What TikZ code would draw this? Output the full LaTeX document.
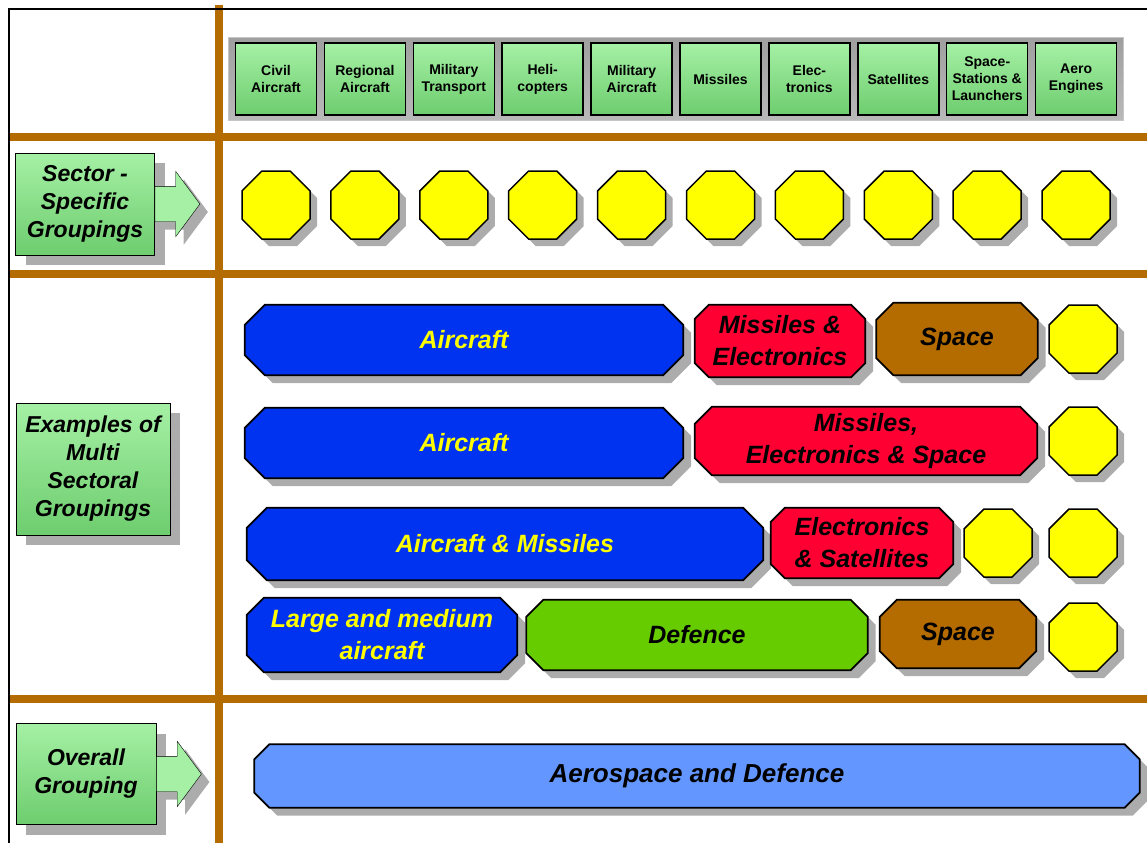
\documentclass[tikz,border=0pt]{standalone}
\usepackage{fontspec}
\setmainfont{Liberation Sans}
\usetikzlibrary{positioning}
\usetikzlibrary{shapes.geometric}
\usetikzlibrary{shapes.arrows}
\usetikzlibrary{shadows}
\usetikzlibrary{backgrounds}
\definecolor{framebrown}{RGB}{180,108,0}
\definecolor{barblue}{RGB}{0,51,240}
\definecolor{barred}{RGB}{255,0,51}
\definecolor{barbrown}{RGB}{180,108,0}
\definecolor{bargreen}{RGB}{102,204,0}
\definecolor{barsky}{RGB}{100,150,255}
\definecolor{octyellow}{RGB}{255,255,0}
\definecolor{boxgreen}{RGB}{165,240,165}
\definecolor{boxgreend}{RGB}{110,205,110}
\tikzset{
    divider/.style = {line width=8.5pt, draw=framebrown},
    border/.style = {line width=2.5pt, draw=black},
    strip/.style = {rectangle, draw=gray!45, line width=1pt, top color=gray!75, bottom color=gray!55, minimum width=895pt, minimum height=82pt, inner sep=0pt},
    sector/.style = {rectangle, draw=black, line width=1.5pt, top color=boxgreen, bottom color=boxgreend, minimum width=81pt, minimum height=72pt, inner sep=0pt, align=center, font=\fontsize{14}{17}\selectfont\bfseries},
    rowlabel/.style = {rectangle, draw=black, thin, top color=boxgreen, bottom color=boxgreend, inner sep=0pt, align=center, font=\fontsize{23}{28}\selectfont\bfseries\itshape, drop shadow={shadow xshift=10pt, shadow yshift=-10pt, fill=gray!65, opacity=1}},
    pointer/.style = {single arrow, draw=black, thin, fill=boxgreen, single arrow head extend=15pt, single arrow tip angle=107, minimum height=45pt, inner xsep=0pt, inner ysep=17.5pt, drop shadow={shadow xshift=8pt, shadow yshift=-8pt, fill=gray!65, opacity=1}},
    octa/.style = {regular polygon, regular polygon sides=8, draw=black, line width=1.5pt, fill=octyellow, minimum size=73.6pt, inner sep=0pt, drop shadow={shadow xshift=7pt, shadow yshift=-7pt, fill=gray!65, opacity=1}},
    grp/.style = {rectangle, inner sep=0pt, align=center, font=\fontsize{25}{32}\selectfont\bfseries\itshape},
    grpblue/.style = {grp, text=octyellow},
    grpsky/.style = {grp, font=\fontsize{26}{32}\selectfont\bfseries\itshape},
    outline/.style = {draw=black, line width=1.8pt, line join=miter, fill=#1, drop shadow={shadow xshift=8pt, shadow yshift=-8pt, fill=gray!65, opacity=1}},
}
% chamfered outline round a named node
\newcommand{\chamferbox}[3][17pt]{%
  \draw[outline=#3] ([xshift=#1]#2.north west) -- ([xshift=-#1]#2.north east)
    -- ([yshift=-#1]#2.north east) -- ([yshift=#1]#2.south east)
    -- ([xshift=-#1]#2.south east) -- ([xshift=#1]#2.south west)
    -- ([yshift=#1]#2.south west) -- ([yshift=-#1]#2.north west) -- cycle;
}

\begin{document}
\begin{tikzpicture}[x=1pt, y=-1pt]
\useasboundingbox (0,0) rectangle (1147,843);

% frame
\draw[divider] (219,5) -- (219,843);
\draw[divider] (9,137) -- (1147,137);
\draw[divider] (9,274) -- (1147,274);
\draw[divider] (9,699) -- (1147,699);
\draw[border] (1147,9) -- (9,9) -- (9,843);

% sectors
\node[strip] at (675.5, 79) (strip) {};
\node[sector] at ( 276.0, 79) (civil) {Civil\\Aircraft};
\node[sector] at ( 364.9, 79) (regional) {Regional\\Aircraft};
\node[sector] at ( 453.8, 79) (transport) {Military\\Transport};
\node[sector] at ( 542.7, 79) (heli) {Heli-\\copters};
\node[sector] at ( 631.6, 79) (military) {Military\\Aircraft};
\node[sector] at ( 720.5, 79) (missiles) {Missiles};
\node[sector] at ( 809.4, 79) (elec) {Elec-\\tronics};
\node[sector] at ( 898.3, 79) (satellites) {Satellites};
\node[sector] at ( 987.2, 79) (stations) {Space-\\Stations \&\\Launchers};
\node[sector] at (1076.1, 79) (engines) {Aero\\Engines};

% row labels
\node[rowlabel, minimum width=139pt, minimum height=102pt] at (85,204) (specific) {Sector -\\Specific\\Groupings};
\node[pointer, right=0pt of specific] (specificarrow) {};
\node[rowlabel, minimum width=154pt, minimum height=132pt] at (93,469) (multi) {Examples of\\Multi\\Sectoral\\Groupings};
\node[rowlabel, minimum width=140pt, minimum height=101pt] at (86,774) (overall) {Overall\\Grouping};
\node[pointer, right=0pt of overall] (overallarrow) {};

% sector-specific groupings
\node[octa] at ( 276.0, 205) (s1) {};
\node[octa] at ( 364.9, 205) (s2) {};
\node[octa] at ( 453.8, 205) (s3) {};
\node[octa] at ( 542.7, 205) (s4) {};
\node[octa] at ( 631.6, 205) (s5) {};
\node[octa] at ( 720.5, 205) (s6) {};
\node[octa] at ( 809.4, 205) (s7) {};
\node[octa] at ( 898.3, 205) (s8) {};
\node[octa] at ( 987.2, 205) (s9) {};
\node[octa] at (1076.1, 205) (s10) {};

% multi sectoral groupings
\node[grpblue, minimum width=438pt, minimum height=70pt] at (464,340) (aircrafta) {Aircraft};
\node[grp, minimum width=170pt, minimum height=72pt] at (780,341) (mise) {Missiles \&\\Electronics};
\node[grp, minimum width=161pt, minimum height=72pt] at (957,339) (spacea) {Space};
\node[octa] at (1083,339) (oa) {};

\node[grpblue, minimum width=438pt, minimum height=70pt] at (464,443) (aircraftb) {Aircraft};
\node[grp, minimum width=342pt, minimum height=68pt] at (866,441) (mies) {Missiles,\\Electronics \& Space};
\node[octa] at (1083,441) (ob) {};

\node[grpblue, minimum width=516pt, minimum height=72pt] at (505,544) (airmis) {Aircraft \& Missiles};
\node[grp, minimum width=182pt, minimum height=70pt] at (862,543) (elsat) {Electronics\\\& Satellites};
\node[octa] at (998,543) (oc) {};
\node[octa] at (1083,543) (od) {};

\node[grpblue, minimum width=270pt, minimum height=74pt] at (382,635) (largemed) {Large and medium\\aircraft};
\node[grp, minimum width=341pt, minimum height=70pt] at (697,635) (defence) {Defence};
\node[grp, minimum width=156pt, minimum height=68pt] at (958,634) (spaceb) {Space};
\node[octa] at (1083,637) (oe) {};

% overall grouping
\node[grpsky, minimum width=885pt, minimum height=63pt] at (697,776) (aerodef) {Aerospace and Defence};

% outlines behind the groupings
\begin{pgfonlayer}{background}
\chamferbox[20pt]{aircrafta}{barblue}
\chamferbox[14pt]{mise}{barred}
\chamferbox{spacea}{barbrown}
\chamferbox[20pt]{aircraftb}{barblue}
\chamferbox{mies}{barred}
\chamferbox[20pt]{airmis}{barblue}
\chamferbox[14pt]{elsat}{barred}
\chamferbox{largemed}{barblue}
\chamferbox{defence}{bargreen}
\chamferbox{spaceb}{barbrown}
\chamferbox[15pt]{aerodef}{barsky}
\end{pgfonlayer}

\end{tikzpicture}
\end{document}
